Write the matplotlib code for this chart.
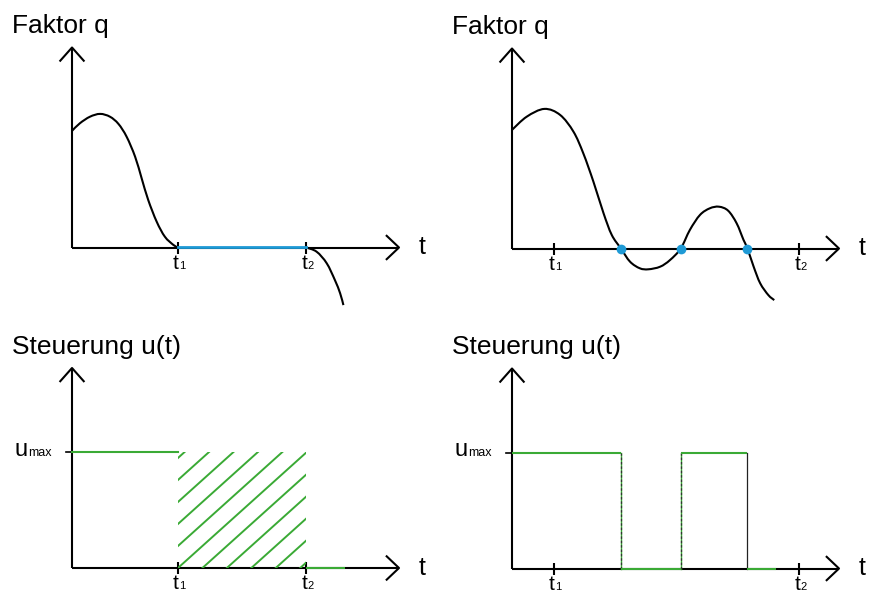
import numpy as np
import matplotlib.pyplot as plt
from matplotlib.patches import Rectangle, PathPatch
from matplotlib.path import Path

plt.rcParams['font.family'] = ['Liberation Sans', 'DejaVu Sans']

GREEN = '#3aaa35'
BLUE = '#1e9ad6'
LW = 1.5

# q(t) for the left case: bump that reaches zero at t1, then stays zero until t2
q1_t = [0.0, 0.24, 0.55, 0.86, 1.16, 1.42, 1.67, 1.93, 2.13, 2.33, 2.59, 2.84, 3.10, 3.24]
q1_q = [5.83, 6.21, 6.54, 6.68, 6.54, 6.18, 5.54, 4.54, 3.46, 2.38, 1.29, 0.54, 0.13, 0.0]
tail_t = [7.16, 7.48, 7.79, 8.04, 8.20, 8.30]
tail_q = [0.0, -0.21, -0.79, -1.63, -2.29, -2.88]

# q(t) for the right case: three sign changes
q2_t = [0.0, 0.45, 0.99, 1.47, 1.88, 2.18, 2.49, 2.80, 3.05, 3.33, 3.61, 3.91, 4.17,
        4.53, 4.83, 5.16, 5.44, 5.75, 6.05, 6.33, 6.61, 6.87, 7.08, 7.20, 7.39, 7.59,
        7.84, 8.02]
q2_q = [5.93, 6.59, 6.98, 6.68, 5.84, 4.76, 3.34, 1.76, 0.68, 0.0, -0.66, -0.99, -1.04,
        -0.91, -0.58, 0.0, 0.93, 1.68, 2.01, 2.09, 1.89, 1.26, 0.43, 0.0, -0.91, -1.74,
        -2.33, -2.58]
zeros_b = [3.33, 5.16, 7.20]

t1_a, t2_a = 3.24, 7.16
t1_b, t2_b = 1.28, 8.78
u_max = 5.8
u_end_a = 8.35
u_end_b = 8.07

# pixel scale of one unit on each axis
SX, SY = 32.7, 20.0
W, H = 869, 594


def make_axes(fig, box, origin):
    x0, y0, x1, y1 = box
    ox, oy = origin
    ax = fig.add_axes([x0 / W, 1 - y1 / H, (x1 - x0) / W, (y1 - y0) / H])
    ax.set_xlim((x0 - ox) / SX, (x1 - ox) / SX)
    ax.set_ylim((oy - y1) / SY, (oy - y0) / SY)
    ax.axis('off')
    return ax


def smooth_curve(ax, t, q):
    # Catmull-Rom through the points, drawn as cubic Bezier segments
    pts = np.column_stack([t, q])
    verts = [pts[0]]
    codes = [Path.MOVETO]
    n = len(pts)
    for i in range(n - 1):
        p0 = pts[max(i - 1, 0)]
        p1, p2 = pts[i], pts[i + 1]
        p3 = pts[min(i + 2, n - 1)]
        verts += [p1 + (p2 - p0) / 6, p2 - (p3 - p1) / 6, p2]
        codes += [Path.CURVE4] * 3
    patch = PathPatch(Path(verts, codes), fill=False, edgecolor='black', lw=LW,
                      joinstyle='round', clip_on=False)
    ax.add_patch(patch)


def draw_frame(ax, title, t1, t2):
    kw = dict(color='black', lw=LW, clip_on=False, solid_capstyle='butt')
    ax.plot([0, 0], [0, 10], **kw)
    ax.plot([0, 10], [0, 0], **kw)
    ax.plot([-0.38, 0, 0.38], [9.3, 10, 9.3], **kw)
    ax.plot([9.6, 10, 9.6], [0.62, 0, -0.62], **kw)
    for t, sub in [(t1, '1'), (t2, '2')]:
        ax.plot([t, t], [-0.3, 0.3], **kw)
        ax.text(t + 0.03, -1.07, 't', ha='right', va='baseline', fontsize=15)
        ax.text(t + 0.04, -1.07, sub, ha='left', va='baseline', fontsize=8)
    ax.text(-1.82, 10.72, title, ha='left', va='baseline', fontsize=19)
    ax.text(10.72, -0.33, 't', ha='center', va='baseline', fontsize=18)


def draw_umax(ax):
    ax.plot([-0.18, 0], [u_max, u_max], color='black', lw=1.2, clip_on=False)
    ax.text(-0.61, u_max - 0.2, 'max', ha='right', va='baseline', fontsize=9)
    ax.text(-1.36, u_max - 0.2, 'u', ha='right', va='baseline', fontsize=17)


fig = plt.figure(figsize=(8.69, 5.94), dpi=100)

# top left: Faktor q, singular arc between t1 and t2
ax = make_axes(fig, (0, 0, 434.5, 297), (72, 247.5))
draw_frame(ax, 'Faktor q', t1_a, t2_a)
smooth_curve(ax, q1_t, q1_q)
smooth_curve(ax, tail_t, tail_q)
ax.plot([t1_a, t2_a], [0.03, 0.03], color=BLUE, lw=2.0)

# top right: Faktor q with switching points
ax = make_axes(fig, (434.5, 0, 869, 297), (512, 248.5))
draw_frame(ax, 'Faktor q', t1_b, t2_b)
smooth_curve(ax, q2_t, q2_q)
ax.plot(zeros_b, [0] * len(zeros_b), 'o', color=BLUE, ms=7, mec='none', zorder=5)

# bottom left: Steuerung u(t), undetermined between t1 and t2
ax = make_axes(fig, (0, 297, 434.5, 594), (72, 568))
draw_frame(ax, 'Steuerung u(t)', t1_a, t2_a)
draw_umax(ax)
ax.plot([0, t1_a], [u_max, u_max], color=GREEN, lw=LW)
ax.plot([t2_a, u_end_a], [0, 0], color=GREEN, lw=LW, solid_capstyle='butt')
slope = 0.9 * SX / SY
rect = Rectangle((t1_a, 0), t2_a - t1_a, u_max, transform=ax.transData,
                 fill=False, edgecolor='none')
ax.add_patch(rect)
for k in range(-5, 6):
    c = k * 1.1
    tt = np.array([t1_a - 1, t2_a + 1])
    line, = ax.plot(tt, slope * (tt - t1_a) + c, color=GREEN, lw=1.4)
    line.set_clip_path(rect)

# bottom right: Steuerung u(t), bang-bang
ax = make_axes(fig, (434.5, 297, 869, 594), (512, 568.5))
draw_frame(ax, 'Steuerung u(t)', t1_b, t2_b)
draw_umax(ax)
z0, z1, z2 = zeros_b
for a, b, lvl in [(0, z0, u_max), (z0, z1, 0), (z1, z2, u_max), (z2, u_end_b, 0)]:
    ax.plot([a, b], [lvl, lvl], color=GREEN, lw=LW, solid_capstyle='butt', zorder=3)
for z in (z0, z1):
    ax.plot([z, z], [0, u_max], color=GREEN, lw=1.0)
    ax.plot([z, z], [0, u_max], color='#333333', lw=0.9, ls=(0, (2, 1.5)))
ax.plot([z2, z2], [0, u_max], color='#222222', lw=0.9)

fig.savefig('out.png', dpi=100)
